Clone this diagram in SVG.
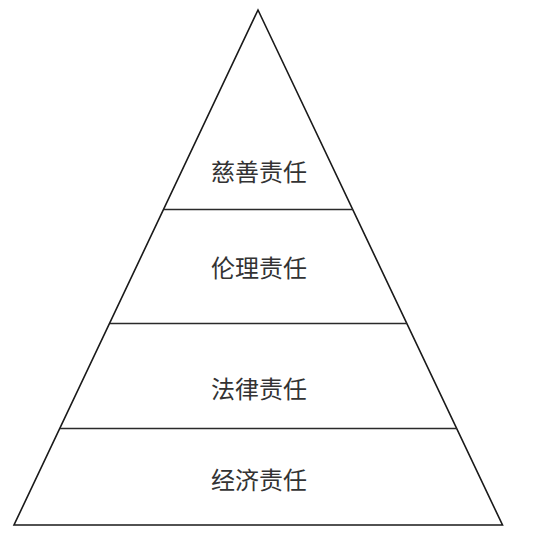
<svg xmlns="http://www.w3.org/2000/svg" width="554" height="536" viewBox="0 0 554 536">
<style>
.edge{stroke:#1a1a1a;stroke-width:1.6;fill:none;stroke-linejoin:miter}
.div{stroke:#2a2a2a;stroke-width:1.6}
.lbl{font-family:"Noto Sans CJK SC","Noto Sans",sans-serif;font-size:24px;fill:#333;text-anchor:middle}
</style>
<rect width="554" height="536" fill="#fff"/>
<g id="connectors">
<polygon class="edge" points="258,10 502.5,525 14,525"/>
<line class="div" x1="164" y1="209.5" x2="353" y2="209.5"/>
<line class="div" x1="110" y1="323.5" x2="407" y2="323.5"/>
<line class="div" x1="60" y1="428.5" x2="457" y2="428.5"/>
</g>
<g id="node-cishan"><text class="lbl" x="259" y="181">慈善责任</text></g>
<g id="node-lunli"><text class="lbl" x="259" y="277">伦理责任</text></g>
<g id="node-falv"><text class="lbl" x="259" y="398">法律责任</text></g>
<g id="node-jingji"><text class="lbl" x="259" y="489">经济责任</text></g>
</svg>
